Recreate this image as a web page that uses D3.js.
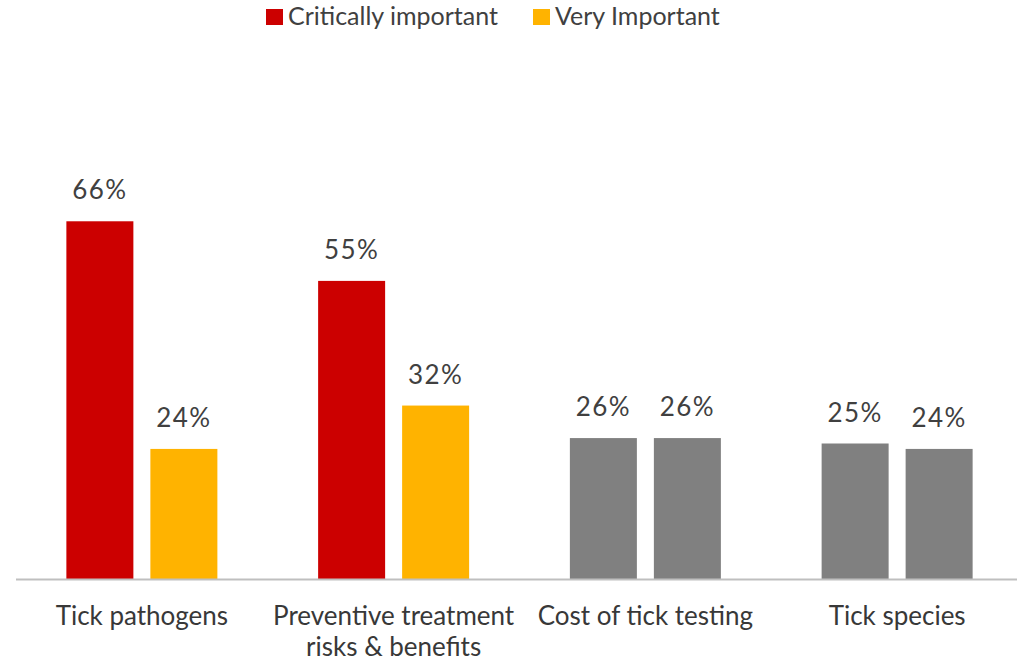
<!DOCTYPE html>
<html>
<head>
<meta charset="utf-8">
<script src="https://cdn.jsdelivr.net/npm/d3@7"></script>
<style>
  body { margin: 0; background: #fff; }
  svg { display: block; font-family: Lato, "Open Sans", sans-serif; }
</style>
</head>
<body>
<div id="chart"></div>
<script>
const categories = ["Tick pathogens", "Preventive treatment risks & benefits", "Cost of tick testing", "Tick species"];
const categoryLines = [["Tick pathogens"], ["Preventive treatment", "risks & benefits"], ["Cost of tick testing"], ["Tick species"]];
const series = ["Critically important", "Very Important"];
const critical = [66, 55, 26, 25];
const veryImportant = [24, 32, 26, 24];
const highlighted = [true, true, false, false];

const RED = "#cc0000";
const YELLOW = "#ffb300";
const GRAY = "#808080";
const TEXT = "#404040";

const W = 1027, H = 661;
const baseY = 579;

let svg = d3.select("#chart").append("svg")
    .attr("width", W)
    .attr("height", H);

let x0 = d3.scaleBand()
    .domain(categories)
    .range([16, 1023]);

let inner = 151;
let pad = (x0.bandwidth() - inner) / 2;
let x1 = d3.scaleBand()
    .domain(series)
    .range([pad, pad + inner])
    .paddingInner(17 / 84);

let y = d3.scaleLinear()
    .domain([0, 70])
    .range([baseY, baseY - 70 * 5.42]);

let rows = categories.map((c, i) => ({
    cat: c,
    lines: categoryLines[i],
    hi: highlighted[i],
    vals: [critical[i], veryImportant[i]]
}));

let groups = svg.append("g").selectAll("g")
    .data(rows)
    .join("g")
    .attr("transform", d => `translate(${x0(d.cat)},0)`);

let bars = groups.selectAll("g.bar")
    .data(d => series.map((s, j) => ({ s, v: d.vals[j], hi: d.hi, j })))
    .join("g")
    .attr("class", "bar");

bars.append("rect")
    .attr("x", d => x1(d.s))
    .attr("width", x1.bandwidth())
    .attr("y", d => y(d.v))
    .attr("height", d => baseY - y(d.v))
    .attr("fill", d => d.hi ? (d.j === 0 ? RED : YELLOW) : GRAY);

bars.append("text")
    .attr("x", d => x1(d.s) + x1.bandwidth() / 2)
    .attr("y", d => y(d.v) - 22)
    .attr("text-anchor", "middle")
    .attr("fill", TEXT)
    .style("font-size", "26px")
    .style("letter-spacing", "1.5px")
    .text(d => d.v + "%");

// baseline
svg.append("line")
    .attr("x1", 16)
    .attr("x2", 1017)
    .attr("y1", baseY + 0.5)
    .attr("y2", baseY + 0.5)
    .attr("stroke", "#bfbfbf")
    .attr("stroke-width", 2);

// category labels
let labels = groups.append("text")
    .attr("text-anchor", "middle")
    .attr("fill", "#383838")
    .style("font-size", "26px");
labels.selectAll("tspan")
    .data(d => d.lines)
    .join("tspan")
    .attr("x", x0.bandwidth() / 2)
    .attr("y", (d, i) => 625 + i * 31)
    .text(d => d);

// legend
let legendX = [266, 533];
let legend = svg.append("g").selectAll("g")
    .data(series)
    .join("g")
    .attr("transform", (d, i) => `translate(${legendX[i]},0)`);
legend.append("rect")
    .attr("x", 0)
    .attr("y", 9)
    .attr("width", 17)
    .attr("height", 16)
    .attr("fill", (d, i) => i === 0 ? RED : YELLOW);
legend.append("text")
    .attr("x", 22)
    .attr("y", 25)
    .attr("fill", TEXT)
    .style("font-size", "25px")
    .text(d => d);
</script>
</body>
</html>
